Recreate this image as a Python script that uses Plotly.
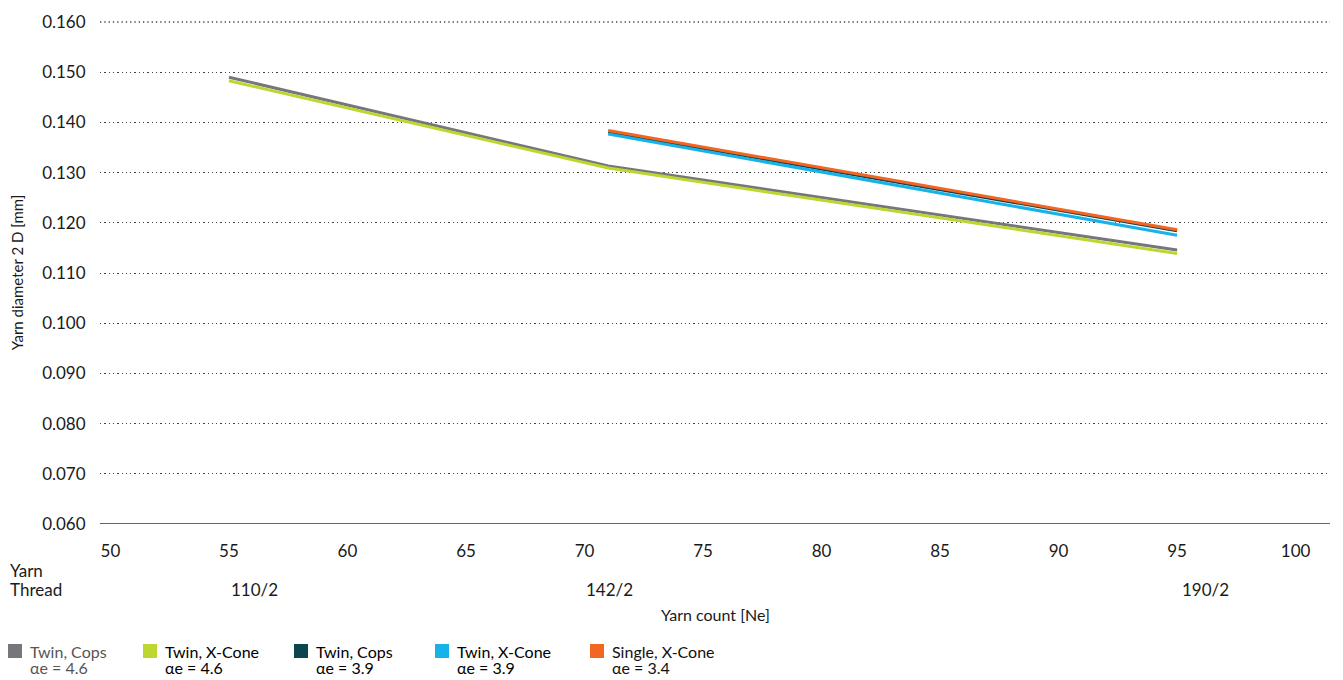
import plotly.graph_objects as go

# Garnfeinheit (Ne) und Garndurchmesser 2 D [mm]
ne_46 = [55, 71, 95]
ne_new = [71, 95]

twin_cops_46 = [0.1490, 0.1313, 0.1146]
twin_xcone_46 = [0.1483, 0.1309, 0.1139]
twin_cops_39 = [0.1381, 0.1184]
twin_xcone_39 = [0.1377, 0.1175]
single_xcone_34 = [0.1384, 0.1186]

thread_ne = [55, 71, 95]
thread_labels = ['110/2', '142/2', '190/2']

x_ticks = [50, 55, 60, 65, 70, 75, 80, 85, 90, 95, 100]
y_ticks = [0.06, 0.07, 0.08, 0.09, 0.10, 0.11, 0.12, 0.13, 0.14, 0.15, 0.16]

legend_names = ['Twin, Cops', 'Twin, X-Cone', 'Twin, Cops', 'Twin, X-Cone', 'Single, X-Cone']
legend_ae = ['\u03b1e = 4.6', '\u03b1e = 4.6', '\u03b1e = 3.9', '\u03b1e = 3.9', '\u03b1e = 3.4']

colors = ['#77777b', '#bed630', '#0b4650', '#17b3e8', '#f26522']
FONT = 'Lato'
TXT = '#1a1a1a'
GRID = '#444'
GRID_DASH = '1.3px,3px'

# die Seite hat 8px Rand (body margin) -> Figur etwas kleiner
OFF = 8
W, H = 1343 - OFF, 680 - OFF
LEFT, RIGHT, TOP, BOTTOM = 100, 1330, 21, 524   # Plotbereich in Seitenpixeln
PW = RIGHT - LEFT
PH = BOTTOM - TOP

fig = go.Figure()

series = [
    (ne_46, twin_cops_46),
    (ne_46, twin_xcone_46),
    (ne_new, twin_cops_39),
    (ne_new, twin_xcone_39),
    (ne_new, single_xcone_34),
]
for (xs, ys), c, n, a in zip(series, colors, legend_names, legend_ae):
    fig.add_trace(go.Scatter(
        x=xs, y=ys, mode='lines',
        line=dict(color=c, width=3),
        name=n + ' ' + a,
        showlegend=False
    ))

fig.update_layout(
    width=W, height=H,
    margin=dict(l=LEFT - OFF, r=W - (RIGHT - OFF), t=TOP - OFF, b=H - (BOTTOM - OFF)),
    paper_bgcolor='white',
    plot_bgcolor='white',
    font=dict(family=FONT, size=16, color=TXT),
    xaxis=dict(
        range=[49.56, 101.45],
        tickvals=x_ticks,
        showgrid=False,
        zeroline=False,
        showline=False,
        automargin=False,
        ticks='outside', ticklen=12, tickcolor='rgba(0,0,0,0)',
        tickfont=dict(size=17, color=TXT),
    ),
    yaxis=dict(
        range=[0.06, 0.1602],
        tickvals=y_ticks,
        tickformat='.3f',
        showgrid=True,
        gridcolor=GRID,
        griddash=GRID_DASH,
        gridwidth=1.3,
        zeroline=False,
        showline=False,
        automargin=False,
        ticks='outside', ticklen=10, tickcolor='rgba(0,0,0,0)',
        tickfont=dict(size=17, color=TXT),
        title=dict(text='Yarn diameter 2 D [mm]', font=dict(size=15, color=TXT), standoff=22),
    ),
    showlegend=False,
)

# oberste Gitterlinie (wird von plotly am Rand weggelassen)
fig.add_shape(type='line', xref='paper', yref='y', x0=0, x1=1, y0=y_ticks[-1], y1=y_ticks[-1],
              line=dict(color=GRID, width=1.3, dash=GRID_DASH), layer='below')

# x-Achsenlinie bei 0.060
fig.add_shape(type='line', xref='paper', yref='y', x0=0, x1=1, y0=y_ticks[0], y1=y_ticks[0],
              line=dict(color='#333', width=1.5))


def below(py):
    # vertikaler Versatz unter der Plotunterkante
    return -(py - BOTTOM)


def px_x(px):
    return (px - LEFT) / PW


# Yarn / Thread Zeile
for txt, py in [('Yarn', 570), ('Thread', 589)]:
    fig.add_annotation(text=txt, xref='paper', yref='paper', x=px_x(8), y=0,
                       xanchor='left', yanchor='middle', yshift=below(py),
                       showarrow=False, font=dict(size=17, color=TXT))
shifts = [26, 1, 28]
for ne, lab, s in zip(thread_ne, thread_labels, shifts):
    fig.add_annotation(text=lab, x=ne, xref='x', yref='paper', y=0,
                       xanchor='center', yanchor='middle', xshift=s,
                       yshift=below(589), showarrow=False,
                       font=dict(size=17, color=TXT))

fig.add_annotation(text='Yarn count [Ne]', xref='paper', yref='paper', x=0.5, y=0,
                   xanchor='center', yanchor='middle', yshift=below(614),
                   showarrow=False, font=dict(size=16, color=TXT))

# Legende unten
leg_x = [8, 143, 294, 435, 590]
txt_colors = ['#555', '#000', '#000', '#000', '#111']
for px, c, n, a, tc in zip(leg_x, colors, legend_names, legend_ae, txt_colors):
    fig.add_shape(type='rect', xref='paper', yref='paper',
                  x0=px_x(px), x1=px_x(px + 14),
                  y0=(BOTTOM - 658) / PH, y1=(BOTTOM - 644) / PH,
                  fillcolor=c, line=dict(width=0))
    fig.add_annotation(text=n, xref='paper', yref='paper', x=px_x(px + 20), y=0,
                       xanchor='left', yanchor='middle', yshift=below(651),
                       showarrow=False, font=dict(size=16, color=tc))
    fig.add_annotation(text=a, xref='paper', yref='paper', x=px_x(px + 20), y=0,
                       xanchor='left', yanchor='middle', yshift=below(667),
                       showarrow=False, font=dict(size=16, color=tc))

fig.write_html("out.html")
